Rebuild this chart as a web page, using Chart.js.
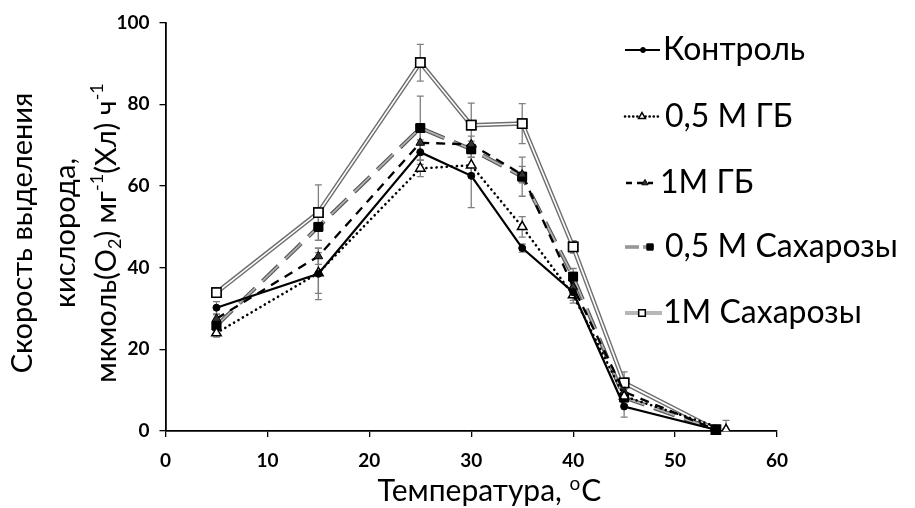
<!DOCTYPE html>
<html><head><meta charset="utf-8">
<script src="https://cdn.jsdelivr.net/npm/chart.js@4.4.1/dist/chart.umd.min.js"></script>
<style>html,body{margin:0;padding:0;background:#fff;}#wrap{width:915px;height:508px;}</style>
</head><body><div id="wrap"><canvas id="c" width="915" height="508"></canvas></div>
<script>
// ---- data ----
const temperaturesMain = [5, 15, 25, 30, 35, 40, 45, 54];
const temperaturesGb05 = [5, 15, 25, 30, 35, 40, 45, 55];
const seriesNames = ['Контроль', '0,5 М ГБ', '1М ГБ', '0,5 М Сахарозы', '1М Сахарозы'];
const control = [30.2, 38.5, 68.3, 62.5, 44.8, 34.0, 6.0, 0.3];
const gb05 = [24.0, 38.7, 64.3, 65.1, 50.0, 33.3, 8.5, 0.3];
const gb1 = [27.5, 42.8, 70.6, 70.2, 62.8, 35.3, 9.6, 0.3];
const suc05 = [25.8, 50.0, 74.2, 69.0, 62.3, 37.8, 8.2, 0.3];
const suc1 = [33.9, 53.5, 90.2, 74.9, 75.3, 45.1, 11.8, 0.3];
const errControl = [1.5, 6.3, 3.0, 7.8, 1.0, 2.0, 2.6, 0.5];
const errGb05 = [1.0, 5.0, 2.0, 2.0, 2.5, 2.0, 2.0, 2.3];
const errGb1 = [1.0, 2.0, 3.0, 2.0, 2.0, 2.0, 2.0, 1.0];
const errSuc05 = [1.0, 3.3, 7.8, 2.0, 4.8, 2.0, 2.0, 1.0];
const errSuc1 = [1.0, 6.8, 4.5, 5.4, 4.9, 1.5, 2.7, 1.0];
const xTicks = [0, 10, 20, 30, 40, 50, 60];
const yTicks = [0, 20, 40, 60, 80, 100];
const xTitle = 'Температура, ';
const xTitleSup = 'o';
const xTitleEnd = 'C';
const yTitleLine1 = 'Скорость выделения';
const yTitleLine2 = 'кислорода,';

const FONT = 'Lato';
function pts(xs, ys) { return xs.map((x, i) => ({x: x, y: ys[i]})); }

const datasets = [
  {label: seriesNames[0], data: pts(temperaturesMain, control), err: errControl,
   borderColor: '#000', borderWidth: 2.2, pointStyle: 'circle', pointRadius: 3.5,
   pointBackgroundColor: '#000', pointBorderColor: '#000', pointBorderWidth: 1},
  {label: seriesNames[1], data: pts(temperaturesGb05, gb05), err: errGb05,
   borderColor: '#000', borderWidth: 2.6, borderDash: [0.1, 5], borderCapStyle: 'round',
   pointStyle: 'triangle', pointRadius: 5.5, pointBackgroundColor: '#fff', pointBorderColor: '#000', pointBorderWidth: 1.5},
  {label: seriesNames[2], data: pts(temperaturesMain, gb1), err: errGb1,
   borderColor: '#000', borderWidth: 2.3, borderDash: [9, 7],
   pointStyle: 'triangle', pointRadius: 5, pointBackgroundColor: '#333', pointBorderColor: '#000', pointBorderWidth: 1},
  {label: seriesNames[3], data: pts(temperaturesMain, suc05), err: errSuc05,
   borderColor: '#555', borderWidth: 4, borderDash: [22, 10], inner: {color: '#b0b0b0', width: 1.8},
   pointStyle: 'rect', pointRadius: 6.2, pointBackgroundColor: '#000', pointBorderColor: '#000', pointBorderWidth: 1},
  {label: seriesNames[4], data: pts(temperaturesMain, suc1), err: errSuc1,
   borderColor: '#6e6e6e', borderWidth: 4.4, inner: {color: '#fff', width: 1.6},
   pointStyle: 'rect', pointRadius: 6.5, pointBackgroundColor: '#fff', pointBorderColor: '#000', pointBorderWidth: 1.5}
];
datasets.forEach(d => { d.fill = false; d.tension = 0; d.pointHoverRadius = d.pointRadius; });

// legend sample geometry: [lineStart, lineEnd, markerX, dashForLegend]
const legendRows = [50, 116.5, 183, 247, 313];
const legendGeom = [[625, 660, 643, []], [625, 659, 642, [0.1, 4]], [626, 653, 645, [6, 5]], [625, 654, 650, [14, 4]], [625, 662, 642, []]];
const legendTextX = [663, 665, 660, 665, 663];

// error bars
const errorBars = {
  id: 'errorBars',
  beforeDatasetsDraw(chart) {
    const ctx = chart.ctx, xs = chart.scales.x, ys = chart.scales.y;
    ctx.save();
    ctx.strokeStyle = '#7f7f7f'; ctx.lineWidth = 1.3; ctx.setLineDash([]);
    chart.data.datasets.forEach(ds => {
      ds.data.forEach((p, i) => {
        const e = ds.err[i];
        const px = xs.getPixelForValue(p.x);
        const y1 = ys.getPixelForValue(Math.max(0, p.y - e)), y2 = ys.getPixelForValue(p.y + e);
        ctx.beginPath();
        ctx.moveTo(px, y1); ctx.lineTo(px, y2);
        ctx.moveTo(px - 3.5, y1); ctx.lineTo(px + 3.5, y1);
        ctx.moveTo(px - 3.5, y2); ctx.lineTo(px + 3.5, y2);
        ctx.stroke();
      });
    });
    ctx.restore();
  }
};

// compound (double) lines
const compoundLines = {
  id: 'compoundLines',
  afterDatasetDraw(chart, args) {
    const ds = chart.data.datasets[args.index];
    if (!ds.inner) return;
    const meta = args.meta, ctx = chart.ctx;
    ctx.save();
    ctx.strokeStyle = ds.inner.color; ctx.lineWidth = ds.inner.width;
    ctx.setLineDash(ds.borderDash || []);
    ctx.beginPath();
    meta.data.forEach((pt, i) => { if (i === 0) ctx.moveTo(pt.x, pt.y); else ctx.lineTo(pt.x, pt.y); });
    ctx.stroke();
    ctx.restore();
    meta.data.forEach(pt => pt.draw(ctx, chart.chartArea));
  }
};

function drawMarker(ctx, style, r, x, y, fill, stroke, lw) {
  ctx.save();
  ctx.setLineDash([]);
  ctx.fillStyle = fill; ctx.strokeStyle = stroke; ctx.lineWidth = lw;
  ctx.beginPath();
  if (style === 'circle') { ctx.arc(x, y, r, 0, Math.PI * 2); }
  else if (style === 'triangle') {
    ctx.moveTo(x, y - r);
    ctx.lineTo(x + Math.sin(2 * Math.PI / 3) * r, y - Math.cos(2 * Math.PI / 3) * r);
    ctx.lineTo(x + Math.sin(4 * Math.PI / 3) * r, y - Math.cos(4 * Math.PI / 3) * r);
    ctx.closePath();
  } else { const s = Math.SQRT1_2 * r; ctx.rect(x - s, y - s, 2 * s, 2 * s); }
  ctx.fill(); ctx.stroke();
  ctx.restore();
}

// legend + titles
const decorations = {
  id: 'decorations',
  afterDraw(chart) {
    const ctx = chart.ctx;
    chart.data.datasets.forEach((ds, i) => {
      const y = legendRows[i], [a, b, m, dash] = legendGeom[i];
      ctx.save();
      ctx.strokeStyle = ds.borderColor; ctx.lineWidth = Math.min(ds.borderWidth, 3);
      ctx.lineCap = ds.borderCapStyle || 'butt';
      ctx.setLineDash(dash);
      ctx.beginPath(); ctx.moveTo(a, y); ctx.lineTo(b, y); ctx.stroke();
      if (ds.inner) {
        ctx.strokeStyle = ds.inner.color; ctx.lineWidth = ds.inner.width * 0.7;
        ctx.beginPath(); ctx.moveTo(a, y); ctx.lineTo(b, y); ctx.stroke();
      }
      ctx.restore();
      drawMarker(ctx, ds.pointStyle, ds.pointRadius * 0.72, m, y, ds.pointBackgroundColor, ds.pointBorderColor, ds.pointBorderWidth);
      ctx.save();
      ctx.fillStyle = '#000'; ctx.font = '32px ' + FONT; ctx.textBaseline = 'middle'; ctx.textAlign = 'left';
      ctx.fillText(ds.label, legendTextX[i], y);
      ctx.restore();
    });
    // x title
    ctx.save();
    ctx.fillStyle = '#000'; ctx.textBaseline = 'alphabetic';
    const fMain = '30px ' + FONT, fSup = '19px ' + FONT;
    ctx.font = fMain; const w1 = ctx.measureText(xTitle).width, w3 = ctx.measureText(xTitleEnd).width;
    ctx.font = fSup; const w2 = ctx.measureText(xTitleSup).width;
    let x0 = 489 - (w1 + w2 + w3) / 2; const by = 501;
    ctx.font = fMain; ctx.fillText(xTitle, x0, by);
    ctx.font = fSup; ctx.fillText(xTitleSup, x0 + w1, by - 11);
    ctx.font = fMain; ctx.fillText(xTitleEnd, x0 + w1 + w2 + 1, by);
    ctx.restore();
    // y title
    const yc = 233;
    const drawLine = (segs, cx) => {
      ctx.save();
      ctx.fillStyle = '#000';
      ctx.translate(cx, yc); ctx.rotate(-Math.PI / 2);
      ctx.textBaseline = 'middle';
      let total = 0;
      segs.forEach(s => { ctx.font = (s.sub || s.sup ? '18px ' : '29px ') + FONT; s.w = ctx.measureText(s.t).width; total += s.w; });
      let x = -total / 2;
      segs.forEach(s => {
        ctx.font = (s.sub || s.sup ? '18px ' : '29px ') + FONT;
        const dy = s.sub ? 8 : (s.sup ? -10 : 0);
        ctx.fillText(s.t, x, dy);
        x += s.w;
      });
      ctx.restore();
    };
    drawLine([{t: yTitleLine1}], 23);
    drawLine([{t: yTitleLine2}], 66);
    drawLine([{t: 'мкмоль(O'}, {t: '2', sub: true}, {t: ') мг'}, {t: '-1', sup: true}, {t: '(Хл) ч'}, {t: '-1', sup: true}], 107);
  }
};

new Chart(document.getElementById('c'), {
  type: 'line',
  data: {datasets: datasets},
  options: {
    responsive: false, animation: false, devicePixelRatio: 1,
    layout: {padding: {left: 0, right: 138, top: 22.7, bottom: 0}},
    plugins: {legend: {display: false}, tooltip: {enabled: false}, title: {display: false}},
    scales: {
      x: {
        type: 'linear', min: 0, max: 60,
        afterBuildTicks: s => { s.ticks = xTicks.map(v => ({value: v})); },
        afterFit: s => { s.height = 77; },
        grid: {display: true, drawOnChartArea: false, drawTicks: true, tickLength: 6, color: '#000', lineWidth: 1.3},
        border: {display: true, color: '#000', width: 1.8},
        ticks: {color: '#000', padding: 12, font: {family: FONT, size: 19, weight: 'bold'}, maxRotation: 0}
      },
      y: {
        type: 'linear', min: 0, max: 100,
        afterBuildTicks: s => { s.ticks = yTicks.map(v => ({value: v})); },
        afterFit: s => { s.width = 165.5; },
        grid: {display: true, drawOnChartArea: false, drawTicks: true, tickLength: 6, color: '#000', lineWidth: 1.3},
        border: {display: true, color: '#000', width: 1.8},
        ticks: {color: '#000', padding: 10, font: {family: FONT, size: 19, weight: 'bold'}}
      }
    }
  },
  plugins: [errorBars, compoundLines, decorations]
});
</script></body></html>
